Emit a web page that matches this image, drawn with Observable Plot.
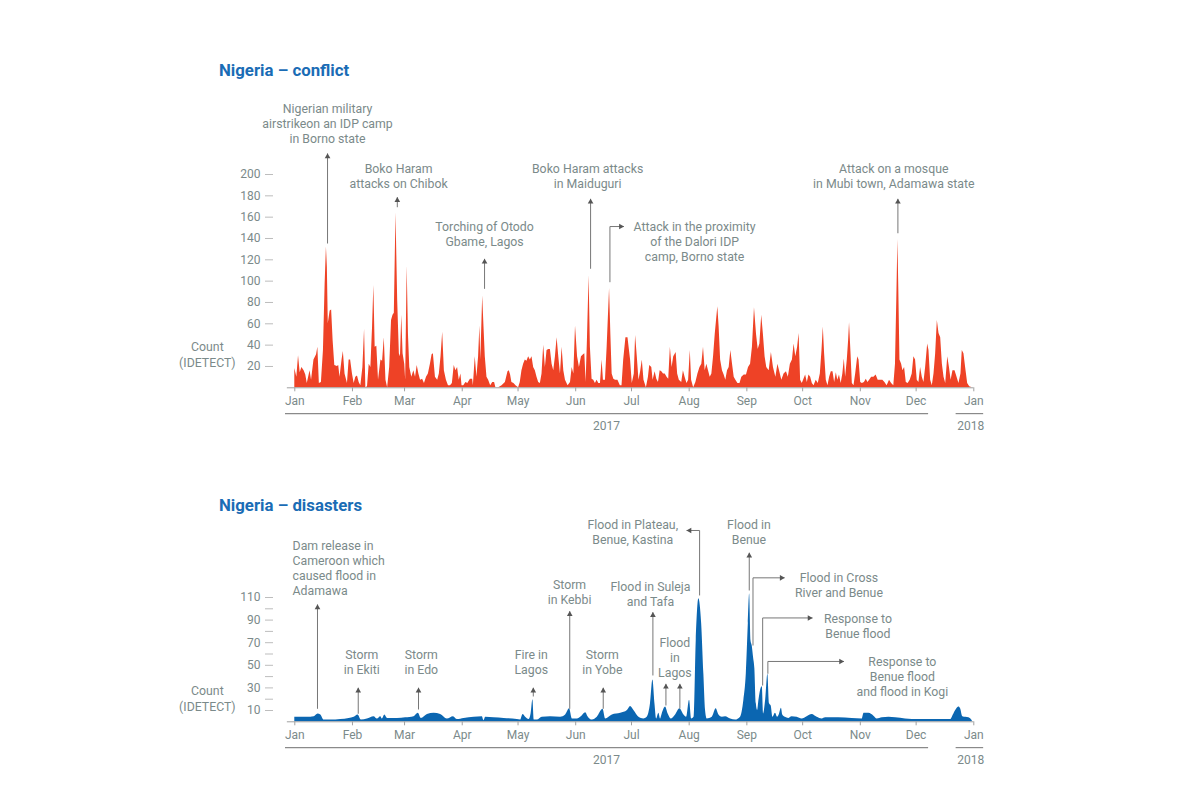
<!DOCTYPE html>
<html><head><meta charset="utf-8">
<script src="https://cdn.jsdelivr.net/npm/d3@7"></script>
<script src="https://cdn.jsdelivr.net/npm/@observablehq/plot@0.6"></script>
<style>
body{margin:0;background:#fff;font-family:Roboto,sans-serif;}
#root{position:relative;width:1200px;height:800px;overflow:hidden;background:#fff}
.title{position:absolute;left:219px;font:bold 16.8px/16px Roboto,sans-serif;color:#1a6cb5;white-space:nowrap}
.chart{position:absolute;left:0}
</style></head><body><div id="root">
<div class="title" style="top:62px">Nigeria – conflict</div>
<div class="chart" id="c1" style="top:90px"></div>
<div class="title" style="top:496.5px">Nigeria – disasters</div>
<div class="chart" id="c2" style="top:512px"></div>
</div>
<script>
// ---- DATA: [day of 2017 (0 = 1 Jan), count] ----
const conflictSeries = [[0,18],[1.1,10],[2,30],[2.9,14],[3.8,19],[5,16],[5.9,12],[6.7,4],[8.2,16],[9,7],[10.3,26],[11.7,31],[12.4,38],[13.2,4],[14.3,5],[15.4,35],[16.3,97],[17,132],[17.5,113],[18,60],[19,72],[19.8,73],[20.6,44],[21.5,21],[22.9,20],[23.6,21],[24.3,10],[25.4,26],[26.1,34],[27,13],[28.3,4],[29.2,26],[30,26],[31,13],[31.9,4],[32.8,10],[33.7,11],[34.6,5],[35.5,2],[36.6,19],[37.5,55],[38.2,0],[39.1,1],[40,22],[40.9,19],[41.8,57],[42.5,96],[43.2,38],[44.1,39],[45,7],[46.3,26],[47.2,25],[48.1,47],[49,7],[49.9,0],[51,19],[52,63],[52.8,68],[53.5,70],[54.4,164],[55.3,82],[56.2,32],[56.8,29],[57.5,68],[58.2,32],[59.1,22],[59.6,7],[60.4,114],[61.1,50],[61.8,19],[62.9,10],[64,16],[64.9,10],[65.8,21],[66.7,13],[67.6,7],[68.7,8],[69.7,4],[70.8,10],[71.8,13],[72.9,22],[73.8,31],[74.5,32],[75.6,10],[76.8,7],[77.7,13],[78.6,29],[79.5,52],[80.4,16],[81.5,7],[82.6,2],[83.7,2],[84.7,4],[85.7,21],[86.6,16],[87.5,19],[88.4,7],[89.3,13],[89.9,2],[90.8,2],[92,5],[93,4],[94.4,8],[95.6,8],[96,2],[97,29],[97.9,10],[98.8,29],[99.5,58],[100,26],[101,86],[101.7,57],[102.4,29],[103.3,10],[104.2,7],[105.3,2],[106.4,5],[107.4,5],[108.1,0],[109.6,0],[111.4,2],[113.2,5],[114.6,15],[115.3,16],[116,12],[116.7,5],[117.8,4],[118.9,2],[120.3,0],[121.2,5],[122.1,16],[123,22],[123.9,26],[124.8,25],[125.7,29],[126.6,26],[127.5,29],[128.4,19],[129.3,16],[130.2,10],[131.1,5],[132,4],[132.9,13],[133.8,40],[134.7,19],[135.6,35],[136.5,36],[137.4,36],[138.3,22],[139.2,16],[140.1,29],[141,47],[141.9,29],[142.8,13],[143.7,38],[144.6,16],[145.5,7],[146.9,2],[148.2,5],[149.1,19],[150,13],[150.9,58],[152,29],[153,19],[154.1,29],[155.2,31],[155.9,32],[156.6,5],[157.3,44],[158.2,105],[158.9,38],[159.8,8],[160.7,7],[161.6,4],[162.5,7],[163.4,4],[164.3,4],[165.2,26],[165.9,7],[167,7],[167.9,38],[169.2,93],[169.9,50],[170.6,13],[171.5,8],[172.4,7],[173.7,7],[175,2],[175.9,2],[176.8,26],[178,47],[179.1,47],[180.5,26],[181.4,4],[182.5,13],[183.2,49],[184.1,29],[185,7],[185.9,15],[186.8,26],[187.7,7],[189,0],[190.1,10],[190.8,21],[191.9,19],[192.6,7],[193.7,15],[194.6,8],[195.5,5],[196.4,16],[197.3,15],[198.2,13],[199.1,13],[200.1,10],[201,8],[201.9,38],[202.8,19],[203.7,29],[205,33],[205.8,13],[206.7,7],[208,5],[208.9,16],[209.8,10],[210.8,4],[211.7,7],[212.6,35],[213.3,7],[214.4,0],[215.6,5],[216.7,13],[217.8,19],[218.8,22],[219.7,38],[220.6,16],[221.5,22],[222.4,16],[223.3,10],[224.2,13],[225.1,29],[226,50],[226.7,63],[227.4,76],[228.1,57],[228.9,26],[229.9,16],[230.8,12],[231.7,7],[232.6,16],[233.5,19],[234.4,35],[235.3,22],[236.2,10],[237.1,7],[238.2,4],[239.3,4],[240.3,10],[241.6,12],[242.8,12],[243.9,19],[245,22],[246,38],[247.1,75],[248.2,50],[249.1,36],[250,41],[251,68],[251.9,50],[252.8,29],[253.7,19],[255,16],[256.2,33],[257.3,19],[258.6,10],[259.7,22],[260.7,15],[261.8,7],[263,13],[264.3,15],[265.3,10],[266.4,22],[267.5,26],[268.4,41],[269.3,29],[270.3,38],[271.1,51],[271.9,7],[272.8,4],[274.6,12],[275.5,5],[276.4,12],[277.3,10],[278.2,4],[279.1,2],[280.3,7],[281.4,4],[282.5,13],[283.4,35],[284.1,57],[284.8,32],[285.7,7],[286.6,2],[287.5,10],[288.4,15],[289.3,15],[290.2,5],[291.1,14],[291.9,7],[292.8,12],[293.7,4],[294.6,13],[295.4,27],[296.1,10],[297,26],[297.7,44],[298.2,61],[299,32],[299.7,4],[300.6,2],[301.5,13],[302.6,29],[303.3,26],[304.2,5],[305.1,4],[306.2,5],[307.2,8],[308.1,5],[309,7],[310.1,10],[311.3,10],[312.5,12],[313.6,7],[314.9,7],[316.1,7],[317.2,5],[318.4,2],[319.7,7],[320.8,4],[322,2],[322.9,22],[323.6,82],[324.2,139],[324.7,91],[325.3,26],[326.2,22],[326.9,16],[327.8,19],[328.7,5],[329.7,4],[330.8,7],[331.9,13],[332.8,29],[333.7,26],[334.6,7],[335.5,5],[336.4,19],[337.3,10],[338.2,5],[339.1,19],[340.2,41],[340.9,35],[341.8,7],[342.7,2],[343.6,13],[344.5,32],[345.4,63],[346.3,51],[347.2,47],[348.1,22],[349,10],[349.9,4],[351,29],[351.9,19],[352.8,7],[353.8,16],[354.9,16],[356,10],[357,4],[358.1,13],[358.8,35],[359.7,32],[360.6,19],[361.7,4],[362.8,1],[364.2,0]];

const disasterSeries = [[0,4],[6.8,4],[10.4,4.5],[12.5,7],[14,6],[15.8,1.5],[19.4,1.5],[24.7,2],[29.2,3],[31.9,4],[34,6],[35.8,1.5],[39,2.5],[42.6,4.5],[44.4,2.5],[46.2,4.5],[47.1,2.5],[48.4,6],[49.8,3],[55.2,3],[59.6,3.5],[64.1,4.5],[66.4,7.5],[68,3],[71.3,6.5],[74.9,7.5],[78.4,6.5],[82,2.5],[85.3,4.5],[87.4,2],[91,3],[96.4,4],[100.8,4.5],[101.7,1],[102.6,4],[107.1,3.5],[112.5,3],[119.6,2],[121.4,1.5],[122.7,6.5],[124.1,4],[125.9,2],[127,7],[128,19.5],[128.7,1.5],[130.4,1.5],[133,4],[137.5,4.5],[142.9,4],[145.6,6],[147.7,11.5],[149.2,2.5],[151.9,2.5],[154,4.5],[156.4,8],[157.6,4.5],[160,1.5],[162.6,4],[165.7,11],[167.1,2.5],[170.7,6],[175.2,7.5],[178.8,10],[180.5,13.5],[182.3,10],[185,4],[187.6,2.5],[189.4,4],[191.2,16],[192.5,37],[193.6,16],[194.5,2.5],[195.7,7.5],[196.6,2.5],[197.5,7],[199.3,13],[200.7,7],[202.5,2.5],[204.7,6],[207,11.5],[209.2,6],[210.6,4],[212.2,19],[213.3,2.5],[214.6,4],[215.8,72],[217.2,109],[218.7,87],[219.9,42],[220.8,10],[221.7,2.5],[224.4,4],[226.5,11.5],[228,6],[229.8,4],[231.6,4.5],[234.3,2.5],[237,1.5],[239.6,4],[241.4,19],[242.7,42],[243.8,87],[244.5,113],[245.2,72],[245.9,67],[246.6,57],[247.3,47],[248.1,16],[248.8,10],[249.5,19],[250.4,28],[251.3,31],[252,7],[253.1,19],[254.3,42],[255.2,16],[256.1,14],[257,4],[258.4,7.5],[259.5,4],[260.5,6.5],[261.6,12],[262.3,6],[263.7,4],[265.5,3],[267.3,4.5],[270,4],[272.7,2.5],[275.4,4.5],[278.1,6.5],[280.8,4],[283.5,2.5],[285.3,3.5],[292.4,3.5],[299.6,3],[305,2.5],[306,7.5],[308.6,7.5],[311.3,5],[313.1,2.5],[315.8,3.5],[319.4,4],[323,3.5],[328.3,2.5],[335.5,2],[346.2,2],[352.5,2],[354.3,7],[357,13],[357.9,11.5],[359.1,4.5],[362.4,3.5],[364.2,1]];

const conflictTicks = [20,40,60,80,100,120,140,160,180,200];
const disasterTicks = [10,20,30,40,50,60,70,80,90,100,110];
const disasterTickLabels = [10,30,50,70,90,110];
const yearLabels = ["2017","2018"];
const axisLabel = "Count\n(IDETECT)";

const conflictNotes = [
  {text:"Nigerian military\nairstrikeon an IDP camp\nin Borno state", day:17.6, from:135.3, to:219.7, tx:17.6, ty:261.8},
  {text:"Boko Haram\nattacks on Chibok", day:55.1, from:169.3, to:178.7, tx:55.8, ty:205.6},
  {text:"Torching of Otodo\nGbame, Lagos", day:102, from:92.8, to:120.9, tx:102, ty:151.2},
  {text:"Boko Haram attacks\nin Maiduguri", day:159, from:111.6, to:177.2, tx:157.4, ty:205.6},
  {text:"Attack in the proximity\nof the Dalori IDP\ncamp, Borno state", day:169.4, from:99, to:151.2, turn:176.9, tx:214.9, ty:151.2},
  {text:"Attack on a mosque\nin Mubi town, Adamawa state", day:324.2, from:144.9, to:177.2, tx:322, ty:205.6}
];
const disasterNotes = [
  {text:"Dam release in\nCameroon which\ncaused flood in\nAdamawa", day:12.2, from:11.5, to:103.8, tx:-1.2, ty:156, align:"start"},
  {text:"Storm\nin Ekiti", day:34.1, from:7.1, to:30.1, tx:36, ty:59.8},
  {text:"Storm\nin Edo", day:66.5, from:10.9, to:30.1, tx:68, ty:59.8},
  {text:"Fire in\nLagos", day:128.2, from:22.4, to:30.1, tx:127.1, ty:59.8},
  {text:"Storm\nin Kebbi", day:147.8, from:11.5, to:97.9, tx:147.7, ty:121.2},
  {text:"Storm\nin Yobe", day:165.8, from:11.5, to:30.1, tx:165.3, ty:59.6},
  {text:"Flood in Suleja\nand Tafa", day:192.5, from:41, to:97, tx:191.2, ty:119.7},
  {text:"Flood\nin\nLagos", day:199.5, from:14.4, to:33.6, tx:204.3, ty:70.4},
  {text:"", day:207, from:11.8, to:33.6},
  {text:"Flood in Plateau,\nBenue, Kastina", day:217.6, from:111.8, to:169.3, turn:210.6, tx:181.7, ty:174.6},
  {text:"Flood in\nBenue", day:244.3, from:116.2, to:149.6, tx:244.1, ty:174.6},
  {text:"Flood in Cross\nRiver and Benue", day:246.3, from:67.5, to:127.4, turn:263.3, tx:292.5, ty:127.4},
  {text:"Response to\nBenue flood", day:251.5, from:32.1, to:91.9, turn:278.3, tx:302.7, ty:91.7},
  {text:"Response to\nBenue flood\nand flood in Kogi", day:254.3, from:42.5, to:53.4, turn:295.2, tx:326.6, ty:53.4}
];

// ---- helpers ----
const T0 = Date.UTC(2017, 0, 1);
const toDate = d => new Date(T0 + d * 864e5);
const TEXT = "#7b8a8a";
const monthTicks = d3.utcMonth.range(toDate(0), toDate(366));
const years = [
  {label: yearLabels[0], start: -5, end: 340.7, mid: 167.6},
  {label: yearLabels[1], start: 355.5, end: 370.3, mid: 363.3}
];

function notesMarks(notes) {
  const segs = [], up = [], right = [], left = [];
  for (const n of notes) {
    segs.push({x1: n.day, y1: n.from, x2: n.day, y2: n.to});
    if (n.turn != null) {
      segs.push({x1: n.day, y1: n.to, x2: n.turn, y2: n.to});
      (n.turn > n.day ? right : left).push({x: n.turn, y: n.to});
    } else up.push({x: n.day, y: n.to});
  }
  const tri = (data, rotate, dx, dy) => Plot.dot(data, {x: d => toDate(d.x), y: "y", symbol: "triangle", r: 2.1, fill: "#555", stroke: "none", rotate, dx, dy});
  const textOpts = {x: d => toDate(d.tx), y: "ty", text: "text", lineAnchor: "top", lineHeight: 1.23, dy: -6.3, fill: TEXT, fontSize: 12.3};
  return [
    Plot.link(segs, {x1: d => toDate(d.x1), y1: "y1", x2: d => toDate(d.x2), y2: "y2", stroke: "#777", strokeWidth: 1}),
    tri(up, 0, 0, 3.1),
    tri(right, 90, -3.1, 0),
    tri(left, -90, 3.1, 0),
    Plot.text(notes.filter(n => n.text && n.align !== "start"), textOpts),
    Plot.text(notes.filter(n => n.text && n.align === "start"), {...textOpts, textAnchor: "start"})
  ];
}

function chart({series, color, curve, yMax, ticks, tickLabels, height, marginTop, marginBottom, labelY, notes}) {
  const data = series.map(([d, v]) => ({date: toDate(d), value: v}));
  return Plot.plot({
    width: 1200, height, marginTop, marginBottom, marginLeft: 294.3, marginRight: 226.7,
    style: {fontFamily: "Roboto, sans-serif", fontSize: "12px", color: TEXT, background: "transparent", overflow: "visible"},
    x: {type: "utc", domain: [toDate(0), toDate(365)]},
    y: {domain: [0, yMax]},
    marks: [
      Plot.areaY(data, {x: "date", y: "value", fill: color, curve}),
      Plot.ruleY([0], {x1: () => toDate(-4), x2: () => toDate(365), stroke: "#a0a0a0", strokeWidth: 1}),
      Plot.axisY({ticks, tickFormat: d => tickLabels.includes(d) ? String(d) : "", tickSize: 8, tickPadding: 5, dx: -21.3, stroke: "#bdbdbd", fill: TEXT, label: null}),
      Plot.axisX({ticks: monthTicks, tickFormat: d3.utcFormat("%b"), tickSize: 4, tickPadding: 4.5, stroke: "#a0a0a0", fill: TEXT, label: null}),
      Plot.ruleY(years, {y: () => 0, x1: d => toDate(d.start), x2: d => toDate(d.end), dy: 25.8, stroke: "#8a8a8a", strokeWidth: 1.2}),
      Plot.text(years, {x: d => toDate(d.mid), y: () => 0, text: "label", dy: 38.7, fill: TEXT}),
      Plot.text([axisLabel], {x: () => toDate(-47), y: () => labelY, text: d => d, lineAnchor: "middle", lineHeight: 1.25, fill: TEXT, fontSize: 12.3}),
      ...notesMarks(notes)
    ]
  });
}

document.getElementById("c1").append(chart({
  series: conflictSeries, color: "#ee4226", curve: "linear", yMax: 200,
  ticks: conflictTicks, tickLabels: conflictTicks,
  height: 350, marginTop: 84, marginBottom: 52.7, labelY: 31.7, notes: conflictNotes
}));
document.getElementById("c2").append(chart({
  series: disasterSeries, color: "#0b66b1", curve: "monotone-x", yMax: 110,
  ticks: disasterTicks, tickLabels: disasterTickLabels,
  height: 270, marginTop: 85, marginBottom: 60.7, labelY: 21.1, notes: disasterNotes
}));
</script>
</body></html>
